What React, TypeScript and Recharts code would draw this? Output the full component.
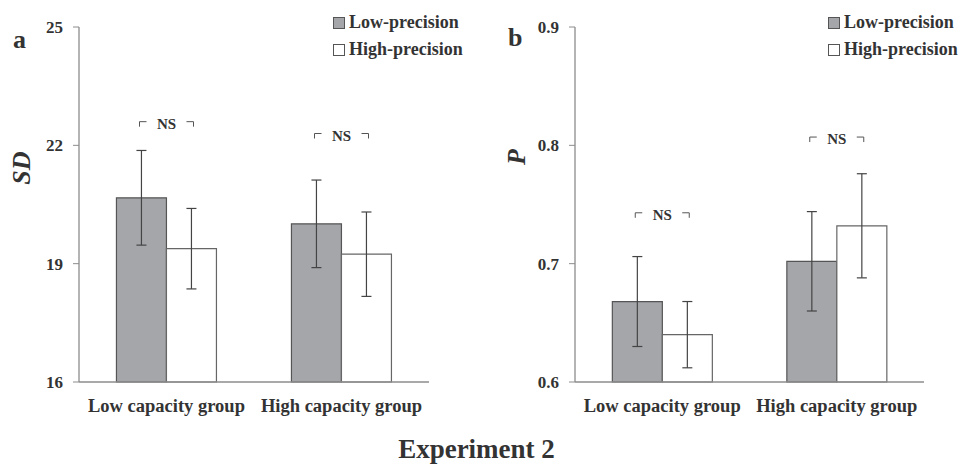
import { BarChart, Bar, XAxis, YAxis, ErrorBar, ReferenceDot, Legend } from 'recharts';

const categories = ['Low capacity group', 'High capacity group'];
const seriesNames = ['Low-precision', 'High-precision'];

// panel a: SD
const sdLow = [20.67, 20.01];
const sdLowErr = [1.2, 1.11];
const sdHigh = [19.38, 19.24];
const sdHighErr = [1.02, 1.07];
const sdNS = [22.6, 22.3];
const sdTicks = [16, 19, 22, 25];

// panel b: P
const pLow = [0.668, 0.702];
const pLowErr = [0.038, 0.042];
const pHigh = [0.64, 0.732];
const pHighErr = [0.028, 0.044];
const pNS = [0.743, 0.807];
const pTicks = [0.6, 0.7, 0.8, 0.9];

const TEXT = '#333';
const FONT = '"Liberation Serif", "Times New Roman", serif';
const GRAY = '#a5a6aa';
const AXIS = '#8c8c8c';

const buildRows = (low: number[], lowErr: number[], high: number[], highErr: number[], ns: number[]) =>
    categories.map((name, i) => ({ name, low: low[i], lowErr: lowErr[i], high: high[i], highErr: highErr[i], ns: ns[i] }));

const sdData = buildRows(sdLow, sdLowErr, sdHigh, sdHighErr, sdNS);
const pData = buildRows(pLow, pLowErr, pHigh, pHighErr, pNS);

function NSMark(props: any) {
    const { cx, cy } = props;
    if (cx == null || cy == null) return null;
    const half = 27;
    const arm = 7;
    return (
        <g stroke="#555" strokeWidth={1} fill="none">
            <path d={`M${cx - half},${cy + 5} V${cy} H${cx - half + arm}`} />
            <path d={`M${cx + half},${cy + 5} V${cy} H${cx + half - arm}`} />
            <text x={cx} y={cy + 7} textAnchor="middle" fill={TEXT} stroke="none"
                fontFamily={FONT} fontWeight="bold" fontSize={15}>NS</text>
        </g>
    );
}

function LegendBox() {
    return (
        <div style={{ fontFamily: FONT, fontWeight: 'bold', fontSize: 18, color: TEXT }}>
            {seriesNames.map((n, i) => (
                <div key={n} style={{ display: 'flex', alignItems: 'center', height: 27 }}>
                    <span style={{
                        display: 'inline-block', width: 10, height: 10, marginRight: 4,
                        border: '1px solid #555', background: i === 0 ? GRAY : '#fff',
                    }} />
                    <span>{n}</span>
                </div>
            ))}
        </div>
    );
}

interface PanelProps {
    data: typeof sdData;
    ticks: number[];
    yAxisWidth: number;
    rightMargin: number;
    legendLeft: number;
}

function Panel({ data, ticks, yAxisWidth, rightMargin, legendLeft }: PanelProps) {
    return (
        <BarChart width={485} height={420} data={data}
            margin={{ top: 27, right: rightMargin, left: 0, bottom: 0 }}
            barCategoryGap="21.4%" barGap={0}>
            <XAxis dataKey="name" axisLine={{ stroke: AXIS, strokeWidth: 1.3 }} tickLine={false}
                tickSize={0} tickMargin={17} height={38}
                tick={{ fill: TEXT, fontSize: 18.5, fontWeight: 'bold', fontFamily: FONT }} />
            <YAxis domain={[ticks[0], ticks[ticks.length - 1]]} ticks={ticks} width={yAxisWidth}
                axisLine={{ stroke: AXIS, strokeWidth: 1.3 }} tickLine={{ stroke: AXIS }}
                tickSize={6} tickMargin={10} interval={0}
                tick={{ fill: TEXT, fontSize: 17, fontWeight: 'bold', fontFamily: FONT }} />
            <Legend layout="vertical" align="center" verticalAlign="middle"
                content={<LegendBox />}
                wrapperStyle={{ left: legendLeft, top: 9, width: 150 }} />
            <Bar dataKey="low" name={seriesNames[0]} fill={GRAY} stroke="#555" strokeWidth={1.2}
                isAnimationActive={false}>
                <ErrorBar dataKey="lowErr" width={5} stroke="#444" strokeWidth={1.2} />
            </Bar>
            <Bar dataKey="high" name={seriesNames[1]} fill="#fff" stroke="#666" strokeWidth={1.2}
                isAnimationActive={false}>
                <ErrorBar dataKey="highErr" width={5} stroke="#444" strokeWidth={1.2} />
            </Bar>
            {data.map((d) => (
                <ReferenceDot key={d.name} x={d.name} y={d.ns} r={0} ifOverflow="visible"
                    shape={(p: any) => <NSMark {...p} />} />
            ))}
        </BarChart>
    );
}

const label: React.CSSProperties = {
    position: 'absolute', fontFamily: FONT, fontWeight: 'bold', color: TEXT, lineHeight: 1,
};

export default function App() {
    return (
        <div style={{ position: 'absolute', left: 0, top: 0, width: 970, height: 466, background: '#fff', overflow: 'hidden' }}>
            <div style={{ position: 'absolute', left: 0, top: 0 }}>
                <Panel data={sdData} ticks={sdTicks} yAxisWidth={79} rightMargin={56} legendLeft={333} />
            </div>
            <div style={{ position: 'absolute', left: 485, top: 0 }}>
                <Panel data={pData} ticks={pTicks} yAxisWidth={90} rightMargin={46} legendLeft={343} />
            </div>
            <div style={{ ...label, left: 13, top: 27, fontSize: 26 }}>a</div>
            <div style={{ ...label, left: 508, top: 25, fontSize: 26 }}>b</div>
            <div style={{ ...label, left: 5, top: 168, fontSize: 26, fontStyle: 'italic', transform: 'translate(0,-50%) rotate(-90deg)', transformOrigin: 'center' }}>SD</div>
            <div style={{ ...label, left: 509, top: 157, fontSize: 26, fontStyle: 'italic', transform: 'translate(0,-50%) rotate(-90deg)', transformOrigin: 'center' }}>P</div>
            <div style={{ ...label, left: 0, width: 953, top: 436, fontSize: 27, textAlign: 'center' }}>Experiment 2</div>
        </div>
    );
}
